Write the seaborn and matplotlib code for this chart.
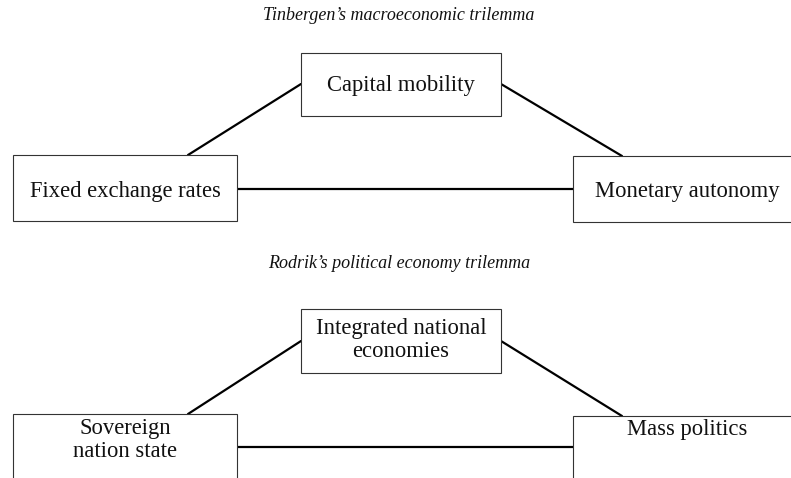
import matplotlib
matplotlib.use("Agg")
import matplotlib.pyplot as plt
from matplotlib.patches import Rectangle
import seaborn as sns
import pandas as pd

sns.set_theme(style="white")
plt.rcParams['font.family'] = ['Liberation Serif', 'DejaVu Serif']

titles = ["Tinbergen\u2019s macroeconomic trilemma", "Rodrik\u2019s political economy trilemma"]
title_y = [15, 264]

node_labels = ["Capital mobility", "Fixed exchange rates", "Monetary autonomy",
               "Integrated national\neconomies", "Sovereign\nnation state", "Mass politics"]
box_x0 = [301, 13, 573, 301, 13, 573]
box_x1 = [501, 237, 795, 501, 237, 795]
box_y0 = [53, 155, 156, 309, 414, 416]
box_y1 = [116, 221, 222, 373, 490, 490]
text_x = [401, 125, 687, 401, 125, 687]
text_y = [85, 191, 191, 340, 440, 430]

seg_id = [0, 0, 1, 1, 2, 2, 3, 3, 4, 4, 5, 5]
seg_x = [188, 301, 501, 622, 237, 573, 188, 301, 501, 622, 237, 573]
seg_y = [155, 84, 84, 156, 189, 189, 414, 341, 341, 416, 447, 447]

fig = plt.figure(figsize=(7.91, 4.78), dpi=100)
ax = fig.add_axes([0, 0, 1, 1])

df = pd.DataFrame({"x": seg_x, "y": seg_y, "seg": seg_id})
sns.lineplot(data=df, x="x", y="y", units="seg", estimator=None, sort=False,
             color="black", linewidth=1.6, ax=ax, legend=False)

for lab, x0, x1, y0, y1, tx, ty in zip(node_labels, box_x0, box_x1, box_y0, box_y1, text_x, text_y):
    ax.add_patch(Rectangle((x0, y0), x1 - x0, y1 - y0, facecolor="white",
                           edgecolor="#333333", linewidth=0.8, zorder=3))
    ax.text(tx, ty, lab, ha="center", va="center", fontsize=16.3, color="#111111",
            linespacing=1.08, zorder=4)

for t, ty in zip(titles, title_y):
    ax.text(399, ty, t, ha="center", va="center", fontsize=13, style="italic",
            color="#111111")

ax.set_xlim(0, 791)
ax.set_ylim(478, 0)
ax.axis("off")
fig.savefig("out.png", dpi=100)
